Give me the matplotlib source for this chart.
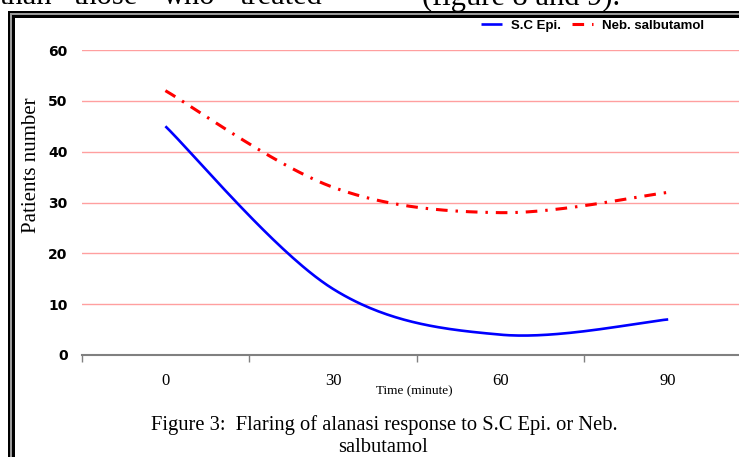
import numpy as np
import matplotlib
matplotlib.use("Agg")
import matplotlib.pyplot as plt
from matplotlib.patches import Rectangle

# data
times = ["0", "30", "60", "90"]
sc_epi = [45, 13, 4, 7]
neb_salbutamol = [52, 33, 28, 32]
y_ticks = [0, 10, 20, 30, 40, 50, 60]

W, H = 739, 457


def fx(px):
    return px / W


def fy(py):
    return 1 - py / H


def smooth(xs, ys, n=60):
    # excel style smoothed line (bezier through the points)
    pts = np.column_stack([xs, ys]).astype(float)
    out = []
    for i in range(len(pts) - 1):
        p0 = pts[i - 1] if i > 0 else pts[i]
        p1 = pts[i]
        p2 = pts[i + 1]
        p3 = pts[i + 2] if i + 2 < len(pts) else pts[i + 1]
        c1 = p1 + (p2 - p0) / 6
        c2 = p2 - (p3 - p1) / 6
        t = np.linspace(0, 1, n)[:, None]
        seg = ((1 - t) ** 3) * p1 + 3 * ((1 - t) ** 2) * t * c1 + 3 * (1 - t) * t ** 2 * c2 + t ** 3 * p2
        out.append(seg if i == 0 else seg[1:])
    out = np.vstack(out)
    return out[:, 0], out[:, 1]


fig = plt.figure(figsize=(W / 100, H / 100), dpi=100)

# page text cut off at the top (as in the scanned page)
serif = "Liberation Serif"
for word, x0 in [("than", 0), ("those", 74), ("who", 163), ("treated", 240),
                 ("(figure 8 and 9).", 422)]:
    fig.text(fx(x0), fy(4.5), word, fontsize=22, family=serif, va="baseline", ha="left")

# the document frame round the chart
for x0, y0, w, h, c in [(8, 11, 731, 2, "black"), (10, 13, 729, 2.5, "#999999"),
                        (12, 15.5, 727, 2, "black"), (8, 11, 2, 446, "black"),
                        (10, 13, 2, 444, "#999999"), (12, 15.5, 3, 442, "black")]:
    fig.patches.append(Rectangle((fx(x0), fy(y0 + h)), w / W, h / H,
                                 transform=fig.transFigure, color=c, lw=0))

ax = fig.add_axes([fx(81.6), fy(355), (752 - 81.6) / W, 305 / H])
x = np.arange(len(times))

bx, by = smooth(x, sc_epi)
rx, ry = smooth(x, neb_salbutamol)
ax.plot(bx, by, color="#0000FF", lw=1.9, label="S.C Epi.", solid_capstyle="butt")
ax.plot(rx, ry, color="#FF0000", lw=2.2, label="Neb. salbutamol",
        linestyle=(0, (3.8, 2.6, 0.8, 2.6)), dash_capstyle="butt")

ax.set_xlim(-0.5, len(times) - 0.5)
ax.set_ylim(0, 60)
ax.set_yticks(y_ticks)
ax.set_yticklabels([str(v) for v in y_ticks], fontsize=10, fontweight="bold",
                   family="DejaVu Sans")
ax.tick_params(axis="y", length=0, pad=10)
ax.yaxis.grid(True, color="#FF9F9F", lw=1)
ax.set_axisbelow(True)

ax.set_xticks(x)
ax.set_xticklabels(times, fontsize=12, family=serif)
ax.set_xticks(np.arange(-0.5, len(times)), minor=True)
ax.tick_params(axis="x", which="major", length=0, pad=13)
ax.tick_params(axis="x", which="minor", length=5, width=1, color="#808080", direction="out")

for s in ["top", "right", "left"]:
    ax.spines[s].set_visible(False)
ax.spines["bottom"].set_color("#808080")
ax.spines["bottom"].set_linewidth(1.5)

fig.text(fx(414), fy(391), "Time (minute)", fontsize=9.5, family=serif, ha="center", va="center")
fig.text(fx(32), fy(165), "Patients number", fontsize=15, family=serif, rotation=90,
         ha="center", va="center")
fig.text(fx(384), fy(425), "Figure 3:  Flaring of alanasi response to S.C Epi. or Neb.",
         fontsize=14.8, family=serif, ha="center", va="center")
fig.text(fx(383), fy(447), "salbutamol", fontsize=14.8, family=serif, ha="center", va="center")

leg = ax.legend(loc="center left", bbox_to_anchor=(fx(481), fy(26)),
                bbox_transform=fig.transFigure, ncol=2, frameon=False,
                borderpad=0, borderaxespad=0, handlelength=1.6, handletextpad=0.7,
                columnspacing=0.8, prop={"family": "Liberation Sans", "weight": "bold",
                                         "size": 9.5})

fig.savefig("out.png", dpi=100)
